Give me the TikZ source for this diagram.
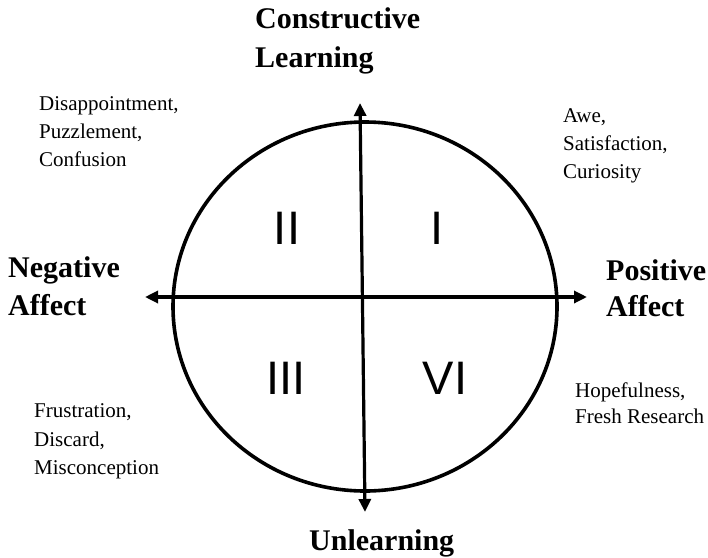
\documentclass[tikz,border=0pt]{standalone}
\usepackage{fontspec}
\setmainfont{Liberation Serif}
\newfontfamily\numfont{Liberation Sans}
\usetikzlibrary{arrows.meta}
\begin{document}
\begin{tikzpicture}[x=1pt,y=-1pt,
  axislabel/.style={anchor=base west,inner sep=0pt,font=\fontsize{30}{36}\selectfont\bfseries},
  emolabel/.style={anchor=base west,inner sep=0pt,font=\fontsize{21}{26}\selectfont},
  quadlabel/.style={inner sep=0pt,font=\numfont\fontsize{47}{50}\selectfont},
  axisline/.style={line width=3.2pt,-{Triangle[length=13pt,width=12pt]}},
  ]
\useasboundingbox (0,0) rectangle (708,557);
% ellipse
\draw[line width=3.6pt] (365,306.5) ellipse [x radius=192, y radius=184.5];
% axes
\coordinate (ctr) at (362.4,297);
\coordinate (up) at (360,103);
\coordinate (down) at (365,512);
\coordinate (left) at (145,297);
\coordinate (right) at (587,297);
\draw[axisline] (ctr) -- (up);
\draw[axisline] (ctr) -- (down);
\draw[axisline] (ctr) -- (left);
\draw[axisline] (ctr) -- (right);
% axis labels
\node[axislabel] (cl1) at (255,28) {Constructive};
\node[axislabel] (cl2) at (255,67) {Learning};
\node[axislabel] (na1) at (8,277) {Negative};
\node[axislabel] (na2) at (8,315) {Affect};
\node[axislabel] (pa1) at (606,280) {Positive};
\node[axislabel] (pa2) at (606,316) {Affect};
\node[axislabel] (ul) at (309,550) {Unlearning};
% emotion labels
\node[emolabel] (d1) at (39,110) {Disappointment,};
\node[emolabel] (d2) at (39,138) {Puzzlement,};
\node[emolabel] (d3) at (39,166) {Confusion};
\node[emolabel] (a1) at (563,122) {Awe,};
\node[emolabel] (a2) at (563,150) {Satisfaction,};
\node[emolabel] (a3) at (563,178) {Curiosity};
\node[emolabel] (f1) at (34,417) {Frustration,};
\node[emolabel] (f2) at (34,446) {Discard,};
\node[emolabel] (f3) at (34,474) {Misconception};
\node[emolabel] (h1) at (575,397) {Hopefulness,};
\node[emolabel] (h2) at (575,423) {Fresh Research};
% quadrant labels
\node[quadlabel] (q2) at (287,228) {II};
\node[quadlabel] (q1) at (437,228) {I};
\node[quadlabel] (q3) at (286,378) {III};
\node[quadlabel] (q4) at (445,378) {VI};
\end{tikzpicture}
\end{document}
